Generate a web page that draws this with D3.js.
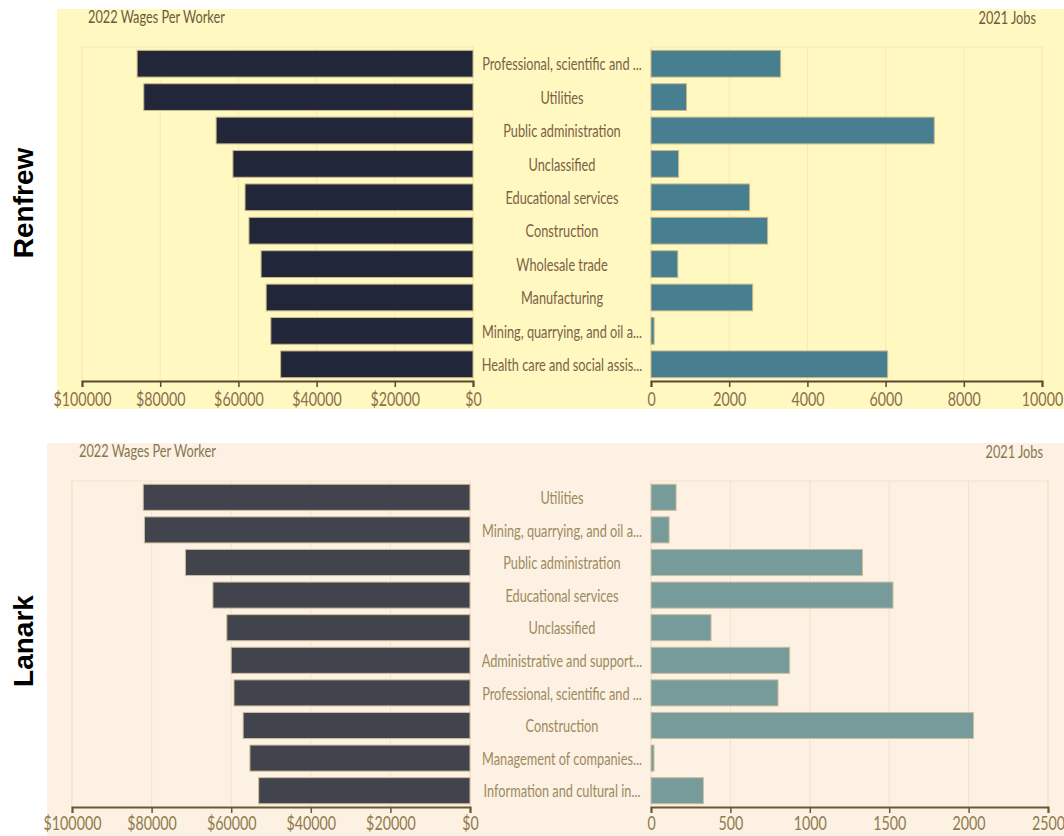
<!DOCTYPE html>
<html>
<head>
<meta charset="utf-8">
<script src="https://cdn.jsdelivr.net/npm/d3@7"></script>
<style>
  body { margin: 0; background: #fff; }
  svg { display: block; }
  text { font-family: Lato, "Open Sans", sans-serif; }
</style>
</head>
<body>
<div id="chart"></div>
<script>
// datos
const renfrewIndustries = [
  "Professional, scientific and ...", "Utilities", "Public administration", "Unclassified",
  "Educational services", "Construction", "Wholesale trade", "Manufacturing",
  "Mining, quarrying, and oil a...", "Health care and social assis..."
];
const renfrewWages = [85900, 84200, 65700, 61400, 58300, 57300, 54200, 52900, 51700, 49200];
const renfrewJobs = [3315, 908, 7245, 706, 2522, 2982, 685, 2600, 80, 6053];

const lanarkIndustries = [
  "Utilities", "Mining, quarrying, and oil a...", "Public administration", "Educational services",
  "Unclassified", "Administrative and support...", "Professional, scientific and ...", "Construction",
  "Management of companies...", "Information and cultural in..."
];
const lanarkWages = [82100, 81800, 71500, 64600, 61100, 60000, 59300, 57000, 55300, 53100];
const lanarkJobs = [158, 114, 1332, 1524, 378, 873, 800, 2031, 19, 330];

const wageTicks = [100000, 80000, 60000, 40000, 20000, 0];
const renfrewJobTicks = [0, 2000, 4000, 6000, 8000, 10000];
const lanarkJobTicks = [0, 500, 1000, 1500, 2000, 2500];

const width = 1064, height = 836;
const SX = 0.75; // el texto del original es estrecho

const svg = d3.select("#chart").append("svg")
  .attr("width", width)
  .attr("height", height);

function drawPanel(p) {
  const g = svg.append("g");

  // fondo del panel
  g.append("rect")
    .attr("x", p.bgX).attr("y", p.bgY)
    .attr("width", width - p.bgX).attr("height", p.bgH)
    .attr("fill", p.bg);

  const y = d3.scaleBand()
    .domain(p.industries)
    .range([p.top, p.axisY])
    .paddingInner(0.2)
    .paddingOuter(0.1);

  const xLeft = d3.scaleLinear().domain([100000, 0]).range([p.leftX0, p.leftX1]);
  const xRight = d3.scaleLinear().domain([0, p.jobMax]).range([p.rightX0, p.rightX1]);

  // rejilla
  [[xLeft, wageTicks], [xRight, p.jobTicks]].forEach(([sc, ticks]) => {
    g.append("rect")
      .attr("x", d3.min(sc.range())).attr("y", p.top)
      .attr("width", Math.abs(sc.range()[1] - sc.range()[0]))
      .attr("height", p.axisY - p.top)
      .attr("fill", "none")
      .attr("stroke", p.grid);
    g.selectAll(null)
      .data(ticks)
      .enter()
      .append("line")
      .attr("x1", d => sc(d)).attr("x2", d => sc(d))
      .attr("y1", p.top).attr("y2", p.axisY)
      .attr("stroke", p.grid);
  });

  // barras de salarios
  g.selectAll(null)
    .data(p.wages)
    .enter()
    .append("rect")
    .attr("x", d => xLeft(d))
    .attr("y", (d, i) => y(p.industries[i]))
    .attr("width", d => xLeft(0) - xLeft(d))
    .attr("height", y.bandwidth())
    .attr("fill", p.leftColor)
    .attr("stroke", p.barStroke)
    .attr("stroke-width", 1);

  // barras de empleos
  g.selectAll(null)
    .data(p.jobs)
    .enter()
    .append("rect")
    .attr("x", xRight(0))
    .attr("y", (d, i) => y(p.industries[i]))
    .attr("width", d => Math.max(1.5, xRight(d) - xRight(0)))
    .attr("height", y.bandwidth())
    .attr("fill", p.rightColor)
    .attr("stroke", p.barStroke)
    .attr("stroke-width", 1);

  // etiquetas de industria
  g.selectAll(null)
    .data(p.industries)
    .enter()
    .append("text")
    .attr("transform", d => `translate(${p.labelX},${y(d) + y.bandwidth() / 2}) scale(${SX},1)`)
    .attr("text-anchor", "middle")
    .attr("dominant-baseline", "central")
    .attr("font-size", "17px")
    .attr("fill", p.labelColor)
    .text(d => d);

  // ejes
  const axL = g.append("g")
    .attr("transform", `translate(0,${p.axisY})`)
    .call(d3.axisBottom(xLeft).tickValues(wageTicks).tickFormat(d => "$" + d).tickSize(6));
  const axR = g.append("g")
    .attr("transform", `translate(0,${p.axisY})`)
    .call(d3.axisBottom(xRight).tickValues(p.jobTicks).tickFormat(d => d).tickSize(6));

  [axL, axR].forEach(ax => {
    ax.select(".domain").attr("stroke", p.axisColor).attr("stroke-width", 2);
    ax.selectAll(".tick line").attr("stroke", p.axisColor).attr("stroke-width", 1.5);
    ax.selectAll(".tick text")
      .attr("fill", p.tickColor)
      .attr("font-size", "19px")
      .attr("y", p.tickY)
      .attr("transform", `scale(${SX},1)`);
  });

  // titulos
  g.append("text")
    .attr("transform", `translate(${p.titleLX},${p.titleY}) scale(${SX},1)`)
    .attr("font-size", "17px")
    .attr("fill", p.titleColor)
    .text("2022 Wages Per Worker");
  g.append("text")
    .attr("transform", `translate(${p.titleRX},${p.titleY + 1}) scale(${SX},1)`)
    .attr("text-anchor", "end")
    .attr("font-size", "17px")
    .attr("fill", p.titleColor)
    .text("2021 Jobs");

  // nombre de la region
  svg.append("text")
    .attr("transform", `translate(33,${p.regionY}) rotate(-90)`)
    .attr("text-anchor", "middle")
    .style("font-family", "'Liberation Sans', Arial, sans-serif")
    .attr("font-weight", "bold")
    .attr("font-size", "28px")
    .attr("fill", "#000")
    .text(p.region);
}

drawPanel({
  region: "Renfrew", regionY: 203,
  industries: renfrewIndustries, wages: renfrewWages, jobs: renfrewJobs,
  jobTicks: renfrewJobTicks, jobMax: 10000,
  bgX: 57, bgY: 9, bgH: 400, bg: "#fff8c0", grid: "#f7e9b5",
  top: 47, axisY: 381, tickY: 12,
  leftX0: 82, leftX1: 473, rightX0: 651, rightX1: 1042,
  labelX: 562,
  leftColor: "#212739", rightColor: "#477f90", barStroke: "#c9b88a",
  labelColor: "#7a6146", titleColor: "#6b5840", tickColor: "#8a6f4e", axisColor: "#5c4a30",
  titleLX: 88, titleRX: 1036, titleY: 23
});

drawPanel({
  region: "Lanark", regionY: 641,
  industries: lanarkIndustries, wages: lanarkWages, jobs: lanarkJobs,
  jobTicks: lanarkJobTicks, jobMax: 2500,
  bgX: 47, bgY: 443, bgH: 393, bg: "#fcf1e2", grid: "#f3e3cc",
  top: 481, axisY: 807, tickY: 10,
  leftX0: 72, leftX1: 470, rightX0: 651, rightX1: 1048,
  labelX: 562,
  leftColor: "#41444c", rightColor: "#769b9a", barStroke: "#cdbf9c",
  labelColor: "#9c8a5f", titleColor: "#857650", tickColor: "#8f7a4e", axisColor: "#6b5a35",
  titleLX: 79, titleRX: 1043, titleY: 457
});
</script>
</body>
</html>
